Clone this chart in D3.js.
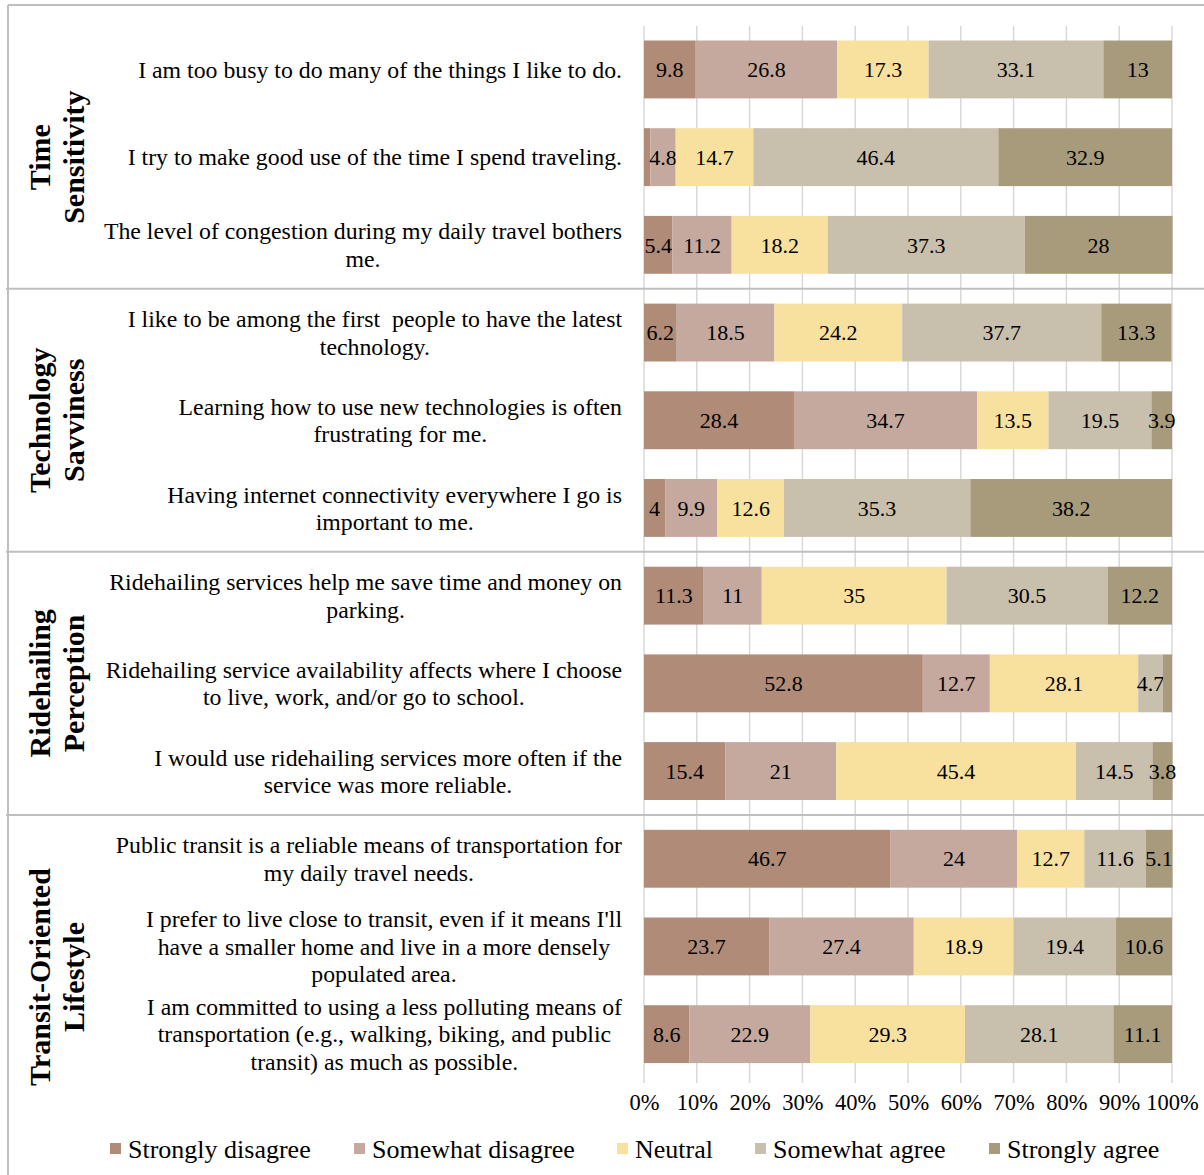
<!DOCTYPE html>
<html lang="en">
<head>
<meta charset="utf-8">
<title>Attitudes stacked bar</title>
<script src="https://d3js.org/d3.v7.min.js"></script>
<style>
  body { margin: 0; background: #fff; }
  text { font-family: "Liberation Serif", "Times New Roman", serif; fill: #000; }
  .stmt { white-space: pre; }
</style>
</head>
<body>
<script>
// answer categories, left to right
var categories = ["Strongly disagree", "Somewhat disagree", "Neutral", "Somewhat agree", "Strongly agree"];
var colors = ["#af8b78", "#c6a99e", "#f8e09e", "#c8bfac", "#a89b7c"];

// statements, top to bottom (each entry = wrapped lines)
var statements = [
  ["I am too busy to do many of the things I like to do."],
  ["I try to make good use of the time I spend traveling."],
  ["The level of congestion during my daily travel bothers", "me."],
  ["I like to be among the first  people to have the latest", "technology."],
  ["Learning how to use new technologies is often", "frustrating for me."],
  ["Having internet connectivity everywhere I go is", "important to me."],
  ["Ridehailing services help me save time and money on", "parking."],
  ["Ridehailing service availability affects where I choose", "to live, work, and/or go to school."],
  ["I would use ridehailing services more often if the", "service was more reliable."],
  ["Public transit is a reliable means of transportation for", "my daily travel needs."],
  ["I prefer to live close to transit, even if it means I'll", "have a smaller home and live in a more densely", "populated area."],
  ["I am committed to using a less polluting means of", "transportation (e.g., walking, biking, and public", "transit) as much as possible."]
];

// percent per category for each statement
var stronglyDisagree = [9.8, 1.2, 5.4, 6.2, 28.4, 4, 11.3, 52.8, 15.4, 46.7, 23.7, 8.6];
var somewhatDisagree = [26.8, 4.8, 11.2, 18.5, 34.7, 9.9, 11, 12.7, 21, 24, 27.4, 22.9];
var neutral = [17.3, 14.7, 18.2, 24.2, 13.5, 12.6, 35, 28.1, 45.4, 12.7, 18.9, 29.3];
var somewhatAgree = [33.1, 46.4, 37.3, 37.7, 19.5, 35.3, 30.5, 4.7, 14.5, 11.6, 19.4, 28.1];
var stronglyAgree = [13, 32.9, 28, 13.3, 3.9, 38.2, 12.2, 1.7, 3.8, 5.1, 10.6, 11.1];

var groupNames = [["Time", "Sensitivity"], ["Technology", "Savviness"], ["Ridehailing", "Perception"], ["Transit-Oriented", "Lifestyle"]];
var groupSizes = [3, 3, 3, 3];

var xTicks = [0, 10, 20, 30, 40, 50, 60, 70, 80, 90, 100];

var W = 1204, H = 1175;
var svg = d3.select("body").append("svg")
    .attr("width", W)
    .attr("height", H);

var table = statements.map(function(s, i) {
  return {
    id: i,
    "Strongly disagree": stronglyDisagree[i],
    "Somewhat disagree": somewhatDisagree[i],
    "Neutral": neutral[i],
    "Somewhat agree": somewhatAgree[i],
    "Strongly agree": stronglyAgree[i]
  };
});

var x = d3.scaleLinear().domain([0, 100]).range([644, 1172]);
var y = d3.scaleBand()
    .domain(table.map(function(d) { return d.id; }))
    .range([25.6, 1078])
    .paddingInner(0.34)
    .paddingOuter(0.17);

// gridlines
svg.append("g").selectAll("line")
    .data(xTicks)
    .enter().append("line")
    .attr("x1", function(d) { return x(d); })
    .attr("x2", function(d) { return x(d); })
    .attr("y1", 26)
    .attr("y2", 1083)
    .attr("stroke", "#d9d9d9")
    .attr("stroke-width", 1.5);

// table frame lines
var frame = svg.append("g").attr("stroke", "#bfbfbf").attr("stroke-width", 2);
frame.append("line").attr("x1", 8).attr("x2", W).attr("y1", 5).attr("y2", 5);
frame.append("line").attr("x1", 8).attr("x2", 8).attr("y1", 5).attr("y2", H);
var cum = 0;
groupSizes.slice(0, -1).forEach(function(n) {
  cum += n;
  var yy = y(cum) - y.step() * y.paddingInner() / 2;
  frame.append("line").attr("x1", 6).attr("x2", W).attr("y1", yy).attr("y2", yy);
});

// stacked bars
var series = d3.stack().keys(categories)(table);

var layers = svg.append("g").selectAll("g")
    .data(series)
    .enter().append("g")
    .attr("fill", function(d, i) { return colors[i]; });

layers.selectAll("rect")
    .data(function(d) { return d; })
    .enter().append("rect")
    .attr("x", function(d) { return x(d[0]); })
    .attr("y", function(d) { return y(d.data.id); })
    .attr("width", function(d) { return x(d[1]) - x(d[0]); })
    .attr("height", y.bandwidth());

// value labels, tiny slices left unlabeled
layers.selectAll("text")
    .data(function(d) { return d.filter(function(p) { return p[1] - p[0] >= 2; }); })
    .enter().append("text")
    .attr("x", function(d) { return (x(d[0]) + x(d[1])) / 2; })
    .attr("y", function(d) { return y(d.data.id) + y.bandwidth() / 2; })
    .attr("dy", "0.35em")
    .attr("text-anchor", "middle")
    .attr("font-size", "22px")
    .text(function(d) { return +(d[1] - d[0]).toFixed(1); });

// statement labels: lines centred on each other, block right aligned
var lineH = 27.5;
statements.forEach(function(lines, i) {
  var g = svg.append("g");
  var cy = y(i) + y.bandwidth() / 2;
  var t = g.selectAll("text")
      .data(lines)
      .enter().append("text")
      .attr("class", "stmt")
      .attr("font-size", "23.8px")
      .attr("text-anchor", "middle")
      .attr("dy", "0.35em")
      .attr("y", function(d, j) { return cy + (j - (lines.length - 1) / 2) * lineH; })
      .text(function(d) { return d; });
  var maxW = 0;
  t.each(function() { maxW = Math.max(maxW, this.getComputedTextLength()); });
  t.attr("x", 622 - maxW / 2);
});

// group labels, rotated
var start = 0;
groupNames.forEach(function(lines, k) {
  var top = y(start) - y.step() * 0.17;
  var bottom = y(start + groupSizes[k] - 1) + y.bandwidth() + y.step() * 0.17;
  var cy = (top + bottom) / 2;
  if (k === groupNames.length - 1) cy = 977;
  start += groupSizes[k];
  svg.append("text")
      .attr("transform", "translate(56," + cy + ") rotate(-90)")
      .attr("text-anchor", "middle")
      .attr("font-size", "30px")
      .attr("font-weight", "bold")
      .selectAll("tspan")
      .data(lines)
      .enter().append("tspan")
      .attr("x", 0)
      .attr("y", function(d, j) { return (j - 0.5) * 34; })
      .attr("dy", "0.35em")
      .text(function(d) { return d; });
});

// x axis labels
var axis = svg.append("g")
    .attr("transform", "translate(0,1094)")
    .call(d3.axisBottom(x).tickValues(xTicks).tickSize(0).tickPadding(0)
      .tickFormat(function(d) { return d + "%"; }));
axis.select(".domain").remove();
axis.selectAll("text")
    .attr("font-family", "Liberation Serif, serif")
    .attr("font-size", "22.5px")
    .attr("fill", "#000");

// legend
var legendX = [110, 354, 617, 755, 989];
var legend = svg.append("g").selectAll("g")
    .data(categories)
    .enter().append("g")
    .attr("transform", function(d, i) { return "translate(" + legendX[i] + ",1149)"; });
legend.append("rect")
    .attr("x", 0).attr("y", -6)
    .attr("width", 11).attr("height", 11)
    .attr("fill", function(d, i) { return colors[i]; });
legend.append("text")
    .attr("x", 18)
    .attr("dy", "0.35em")
    .attr("font-size", "26px")
    .text(function(d) { return d; });
</script>
</body>
</html>
